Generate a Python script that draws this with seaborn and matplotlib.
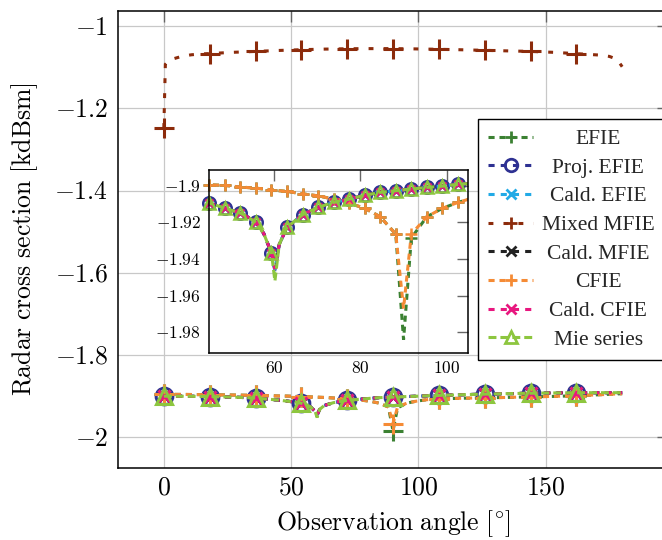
import matplotlib
matplotlib.use("Agg")
import matplotlib.pyplot as plt
from matplotlib.lines import Line2D
from matplotlib.ticker import FuncFormatter, FixedLocator
import pandas as pd
import seaborn as sns

# ---- data ----
# top curve: mixed MFIE
x_top = [0, 0.6, 1.8, 3.6, 7.2, 10.8, 14.4, 18, 27, 36, 45, 54, 63, 72, 81, 90,
         99, 108, 117, 126, 135, 144, 153, 162, 168, 172, 175, 178, 180]
mixed_mfie = [-1.248, -1.093, -1.085, -1.080, -1.0735, -1.070, -1.068, -1.067,
              -1.064, -1.0618, -1.0595, -1.0576, -1.0562, -1.0553, -1.0550, -1.0550,
              -1.0557, -1.0567, -1.0578, -1.0592, -1.0605, -1.0618, -1.0640, -1.0672,
              -1.0695, -1.0710, -1.0740, -1.0810, -1.0990]

# bottom curves
x_bot = [0, 9, 18, 27, 36, 45, 48.6, 52.2, 54, 55.8, 57.6, 59.4, 60.2, 61.2, 63,
         66.6, 70.2, 72, 73.8, 77.4, 81, 84.6, 88.2, 90, 91.8, 95.4, 99, 102.6, 105,
         108, 117, 126, 135, 144, 153, 162, 171, 180]
mie = [-1.9000, -1.9002, -1.9008, -1.9022, -1.9045, -1.9095, -1.9122, -1.9149,
       -1.9172, -1.9200, -1.9260, -1.9367, -1.9520, -1.9320, -1.9227, -1.9158,
       -1.9118, -1.9104, -1.9091, -1.9073, -1.9052, -1.9036, -1.9027, -1.9022,
       -1.9018, -1.9009, -1.9002, -1.8992, -1.8988, -1.8982, -1.8965, -1.8950,
       -1.8938, -1.8928, -1.8921, -1.8917, -1.8915, -1.8915]
cfie = [-1.8955, -1.8958, -1.8965, -1.8972, -1.8980, -1.8995, -1.8998, -1.9007,
        -1.9010, -1.9013, -1.9018, -1.9022, -1.9024, -1.9027, -1.9031, -1.9044,
        -1.9055, -1.9064, -1.9073, -1.9095, -1.9123, -1.9169, -1.9264, -1.9670,
        -1.9264, -1.9169, -1.9123, -1.9091, -1.9074, -1.9065, -1.9050, -1.9040,
        -1.9030, -1.9015, -1.9005, -1.8990, -1.8965, -1.8940]
efie = list(cfie)
efie[x_bot.index(90)] = -1.984
efie[x_bot.index(91.8)] = -1.9285

# the projected / Calderon results sit on the Mie series, only the dip at 60 differs
dip_60 = {"Proj. EFIE": -1.9465, "Cald. EFIE": -1.9460, "Cald. MFIE": -1.9450,
          "Cald. CFIE": -1.9455}

def with_dip(name):
    vals = list(mie)
    vals[x_bot.index(60.2)] = dip_60[name]
    return vals

series = {
    "EFIE": (x_bot, efie),
    "Proj. EFIE": (x_bot, with_dip("Proj. EFIE")),
    "Cald. EFIE": (x_bot, with_dip("Cald. EFIE")),
    "Mixed MFIE": (x_top, mixed_mfie),
    "Cald. MFIE": (x_bot, with_dip("Cald. MFIE")),
    "CFIE": (x_bot, cfie),
    "Cald. CFIE": (x_bot, with_dip("Cald. CFIE")),
    "Mie series": (x_bot, mie),
}

main_marks = [0, 18, 36, 54, 72, 90, 108, 126, 144, 162]
inset_marks = [45, 48.6, 52.2, 55.8, 59.4, 63, 66.6, 70.2, 73.8, 77.4, 81, 84.6,
               88.2, 91.8, 95.4, 99, 102.6]

styles = {
    "EFIE": dict(color="#3b8132", marker="+", dashes=(2, 1.6)),
    "Proj. EFIE": dict(color="#2e3192", marker="o", dashes=(2, 2)),
    "Cald. EFIE": dict(color="#22aae6", marker="x", dashes=(2, 2)),
    "Mixed MFIE": dict(color="#8c2b0b", marker="+", dashes=(1.6, 3.3)),
    "Cald. MFIE": dict(color="#222222", marker="x", dashes=(2, 2)),
    "CFIE": dict(color="#f58b35", marker="+", dashes=(2, 1.6)),
    "Cald. CFIE": dict(color="#e8177f", marker="x", dashes=(2, 2)),
    "Mie series": dict(color="#8dc63f", marker="^", dashes=(2.6, 1.3)),
}
ms_main = {"+": 14, "o": 12, "x": 9, "^": 12}
ms_inset = {"+": 8, "o": 9, "x": 6, "^": 8.5}
ms_leg = {"+": 9, "o": 9, "x": 7, "^": 9}
LW = 2.2

# ---- figure ----
sns.set_theme(style="whitegrid")
plt.rcParams["mathtext.fontset"] = "cm"
plt.rcParams["font.family"] = ["Liberation Serif", "DejaVu Serif"]

fig = plt.figure(figsize=(6.62, 5.40), dpi=100)
ax = fig.add_axes([118 / 662, 1 - 468 / 540, 550 / 662, 457.3 / 540])
axin = fig.add_axes([209.3 / 662, 1 - 352.7 / 540, 259 / 662, 182.7 / 540])
axin.patch.set_alpha(0)

fmt = FuncFormatter(lambda v, p: f"${v:g}$")


def idx_of(xs, marks):
    return [i for i, v in enumerate(xs) if v in marks]


for name, (xs, ys) in series.items():
    st = styles[name]
    df = pd.DataFrame({"x": xs, "y": ys})
    mk = st["marker"]
    common = dict(color=st["color"], mfc="none", markeredgecolor=st["color"])
    sns.lineplot(data=df, x="x", y="y", ax=ax, estimator=None, lw=LW,
                 linestyle=(0, st["dashes"]), marker=mk, markersize=ms_main[mk],
                 markeredgewidth=2.2, markevery=idx_of(xs, main_marks),
                 dash_joinstyle="miter", **common)
    if name == "Mixed MFIE":
        continue
    sns.lineplot(data=df, x="x", y="y", ax=axin, estimator=None, lw=LW,
                 linestyle=(0, st["dashes"]), dash_joinstyle="miter", **common)
    sns.lineplot(data=df, x="x", y="y", ax=axin, estimator=None,
                 linestyle="none", marker=mk, markersize=ms_inset[mk],
                 markeredgewidth=1.8, markevery=idx_of(xs, inset_marks),
                 clip_on=False, **common)

# main axes
ax.set_xlim(-18, 198)
ax.set_ylim(-2.0746, -0.9628)
ax.xaxis.set_major_locator(FixedLocator([0, 50, 100, 150]))
ax.yaxis.set_major_locator(FixedLocator([-2, -1.8, -1.6, -1.4, -1.2, -1]))
ax.xaxis.set_major_formatter(fmt)
ax.yaxis.set_major_formatter(fmt)
ax.tick_params(direction="in", length=8, width=1, color="#666666",
               labelsize=18.5, top=True, right=True, pad=7, labelcolor="black")
ax.grid(True, color="#c8c8c8", lw=0.9)
for s in ax.spines.values():
    s.set_color("black")
    s.set_linewidth(1.1)
ax.set_xlabel(r"$\mathrm{Observation\ angle\ [{}^{\circ}]}$", fontsize=18.5,
              labelpad=6, color="black")
ax.set_ylabel(r"$\mathrm{Radar\ cross\ section\ [kdBsm]}$", fontsize=18.5,
              labelpad=10, color="black")

# inset
axin.set_xlim(45, 105)
axin.set_ylim(-1.9911, -1.8914)
axin.xaxis.set_major_locator(FixedLocator([60, 80, 100]))
axin.yaxis.set_major_locator(FixedLocator([-1.98, -1.96, -1.94, -1.92, -1.9]))
axin.xaxis.set_major_formatter(fmt)
axin.yaxis.set_major_formatter(fmt)
axin.tick_params(direction="in", length=8, width=1, color="#666666",
                 labelsize=12.5, top=True, right=True, pad=6, labelcolor="black")
axin.grid(False)
axin.set_xlabel("")
axin.set_ylabel("")
for s in axin.spines.values():
    s.set_color("black")
    s.set_linewidth(1.1)

# legend
handles = []
for name in series:
    st = styles[name]
    mk = st["marker"]
    handles.append(Line2D([], [], color=st["color"], lw=LW,
                          linestyle=(0, st["dashes"]), marker=mk,
                          markersize=ms_leg[mk], markeredgewidth=2,
                          mfc="none", mec=st["color"]))
leg = ax.legend(handles, list(series), loc="upper left",
                bbox_to_anchor=(478.3 / 662, 1 - 119.3 / 540),
                bbox_transform=fig.transFigure, borderaxespad=0,
                fontsize=15.5, frameon=True, fancybox=False, framealpha=1,
                edgecolor="black", handlelength=2.1, handletextpad=0.4,
                labelspacing=0.4, borderpad=0.45)
leg.get_frame().set_linewidth(1.0)

# centre the legend entries like the original
fig.canvas.draw()
r = fig.canvas.get_renderer()
texts = leg.get_texts()
widths = [t.get_window_extent(r).width for t in texts]
wmax = max(widths)
for t, w in zip(texts, widths):
    t.set_x((wmax - w) / 2)

fig.savefig("out.png", dpi=100)
